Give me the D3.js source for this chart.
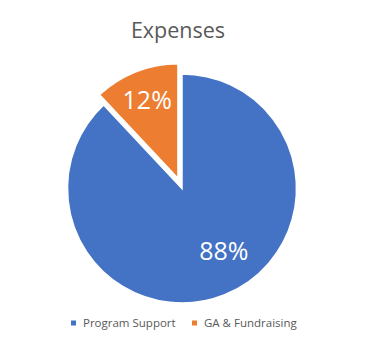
<!DOCTYPE html>
<html>
<head>
<meta charset="utf-8">
<script src="https://cdn.jsdelivr.net/npm/d3@7"></script>
<style>
  body { margin: 0; background: #fff; }
  svg { display: block; font-family: "Open Sans", sans-serif; }
</style>
</head>
<body>
<div id="main"></div>
<script>
const w = 365, h = 353;

const categories = ['Program Support', 'GA & Fundraising'];
const values = [88, 12];
const colors = ['#4472C4', '#ED7D31'];

const cx = 182, cy = 188.5, radius = 114.5;
const explode = 11;

const svg = d3.select('#main')
  .append('svg')
  .attr('width', w)
  .attr('height', h);

svg.append('text')
  .attr('x', 178)
  .attr('y', 38)
  .attr('text-anchor', 'middle')
  .attr('fill', '#595959')
  .attr('font-size', '21.5px')
  .text('Expenses');

const data = categories.map((c, i) => ({name: c, value: values[i], color: colors[i]}));

// first slice starts at 12 o'clock and runs clockwise
const pie = d3.pie()
  .value(d => d.value)
  .sort(null);

const arc = d3.arc().innerRadius(0).outerRadius(radius);

const slices = pie(data);

const g = svg.append('g')
  .attr('transform', 'translate(' + cx + ',' + cy + ')');

const slice = g.selectAll('g.slice')
  .data(slices)
  .enter()
  .append('g')
  .attr('class', 'slice')
  .attr('transform', (d, i) => {
    if (i === 0) return null;
    const mid = (d.startAngle + d.endAngle) / 2;
    return 'translate(' + (Math.sin(mid) * explode) + ',' + (-Math.cos(mid) * explode) + ')';
  });

slice.append('path')
  .attr('d', arc)
  .attr('fill', d => d.data.color)
  .attr('stroke', '#fff')
  .attr('stroke-width', 1.5);

// label spots: big slice label sits a bit off its bisector like Excel's best fit
const labelR = [0.66, 0.73];
const labelShift = [-0.21, 0];

slice.append('text')
  .attr('transform', (d, i) => {
    const mid = (d.startAngle + d.endAngle) / 2 + labelShift[i];
    const c = d3.arc().innerRadius(radius * labelR[i]).outerRadius(radius * labelR[i])
      .centroid({startAngle: mid, endAngle: mid});
    return 'translate(' + c + ')';
  })
  .attr('text-anchor', 'middle')
  .attr('dy', '0.35em')
  .attr('fill', '#fff')
  .attr('font-size', '25px')
  .text(d => d.data.value + '%');

// legend
const legend = svg.append('g')
  .attr('transform', 'translate(0,323)');

const legendX = [71, 192];

const item = legend.selectAll('g')
  .data(data)
  .enter()
  .append('g')
  .attr('transform', (d, i) => 'translate(' + legendX[i] + ',0)');

item.append('rect')
  .attr('x', 0)
  .attr('y', -2.5)
  .attr('width', 5)
  .attr('height', 5)
  .attr('fill', d => d.color);

item.append('text')
  .attr('x', 12)
  .attr('dy', '0.35em')
  .attr('fill', '#595959')
  .attr('font-size', '11.5px')
  .text(d => d.name);
</script>
</body>
</html>
